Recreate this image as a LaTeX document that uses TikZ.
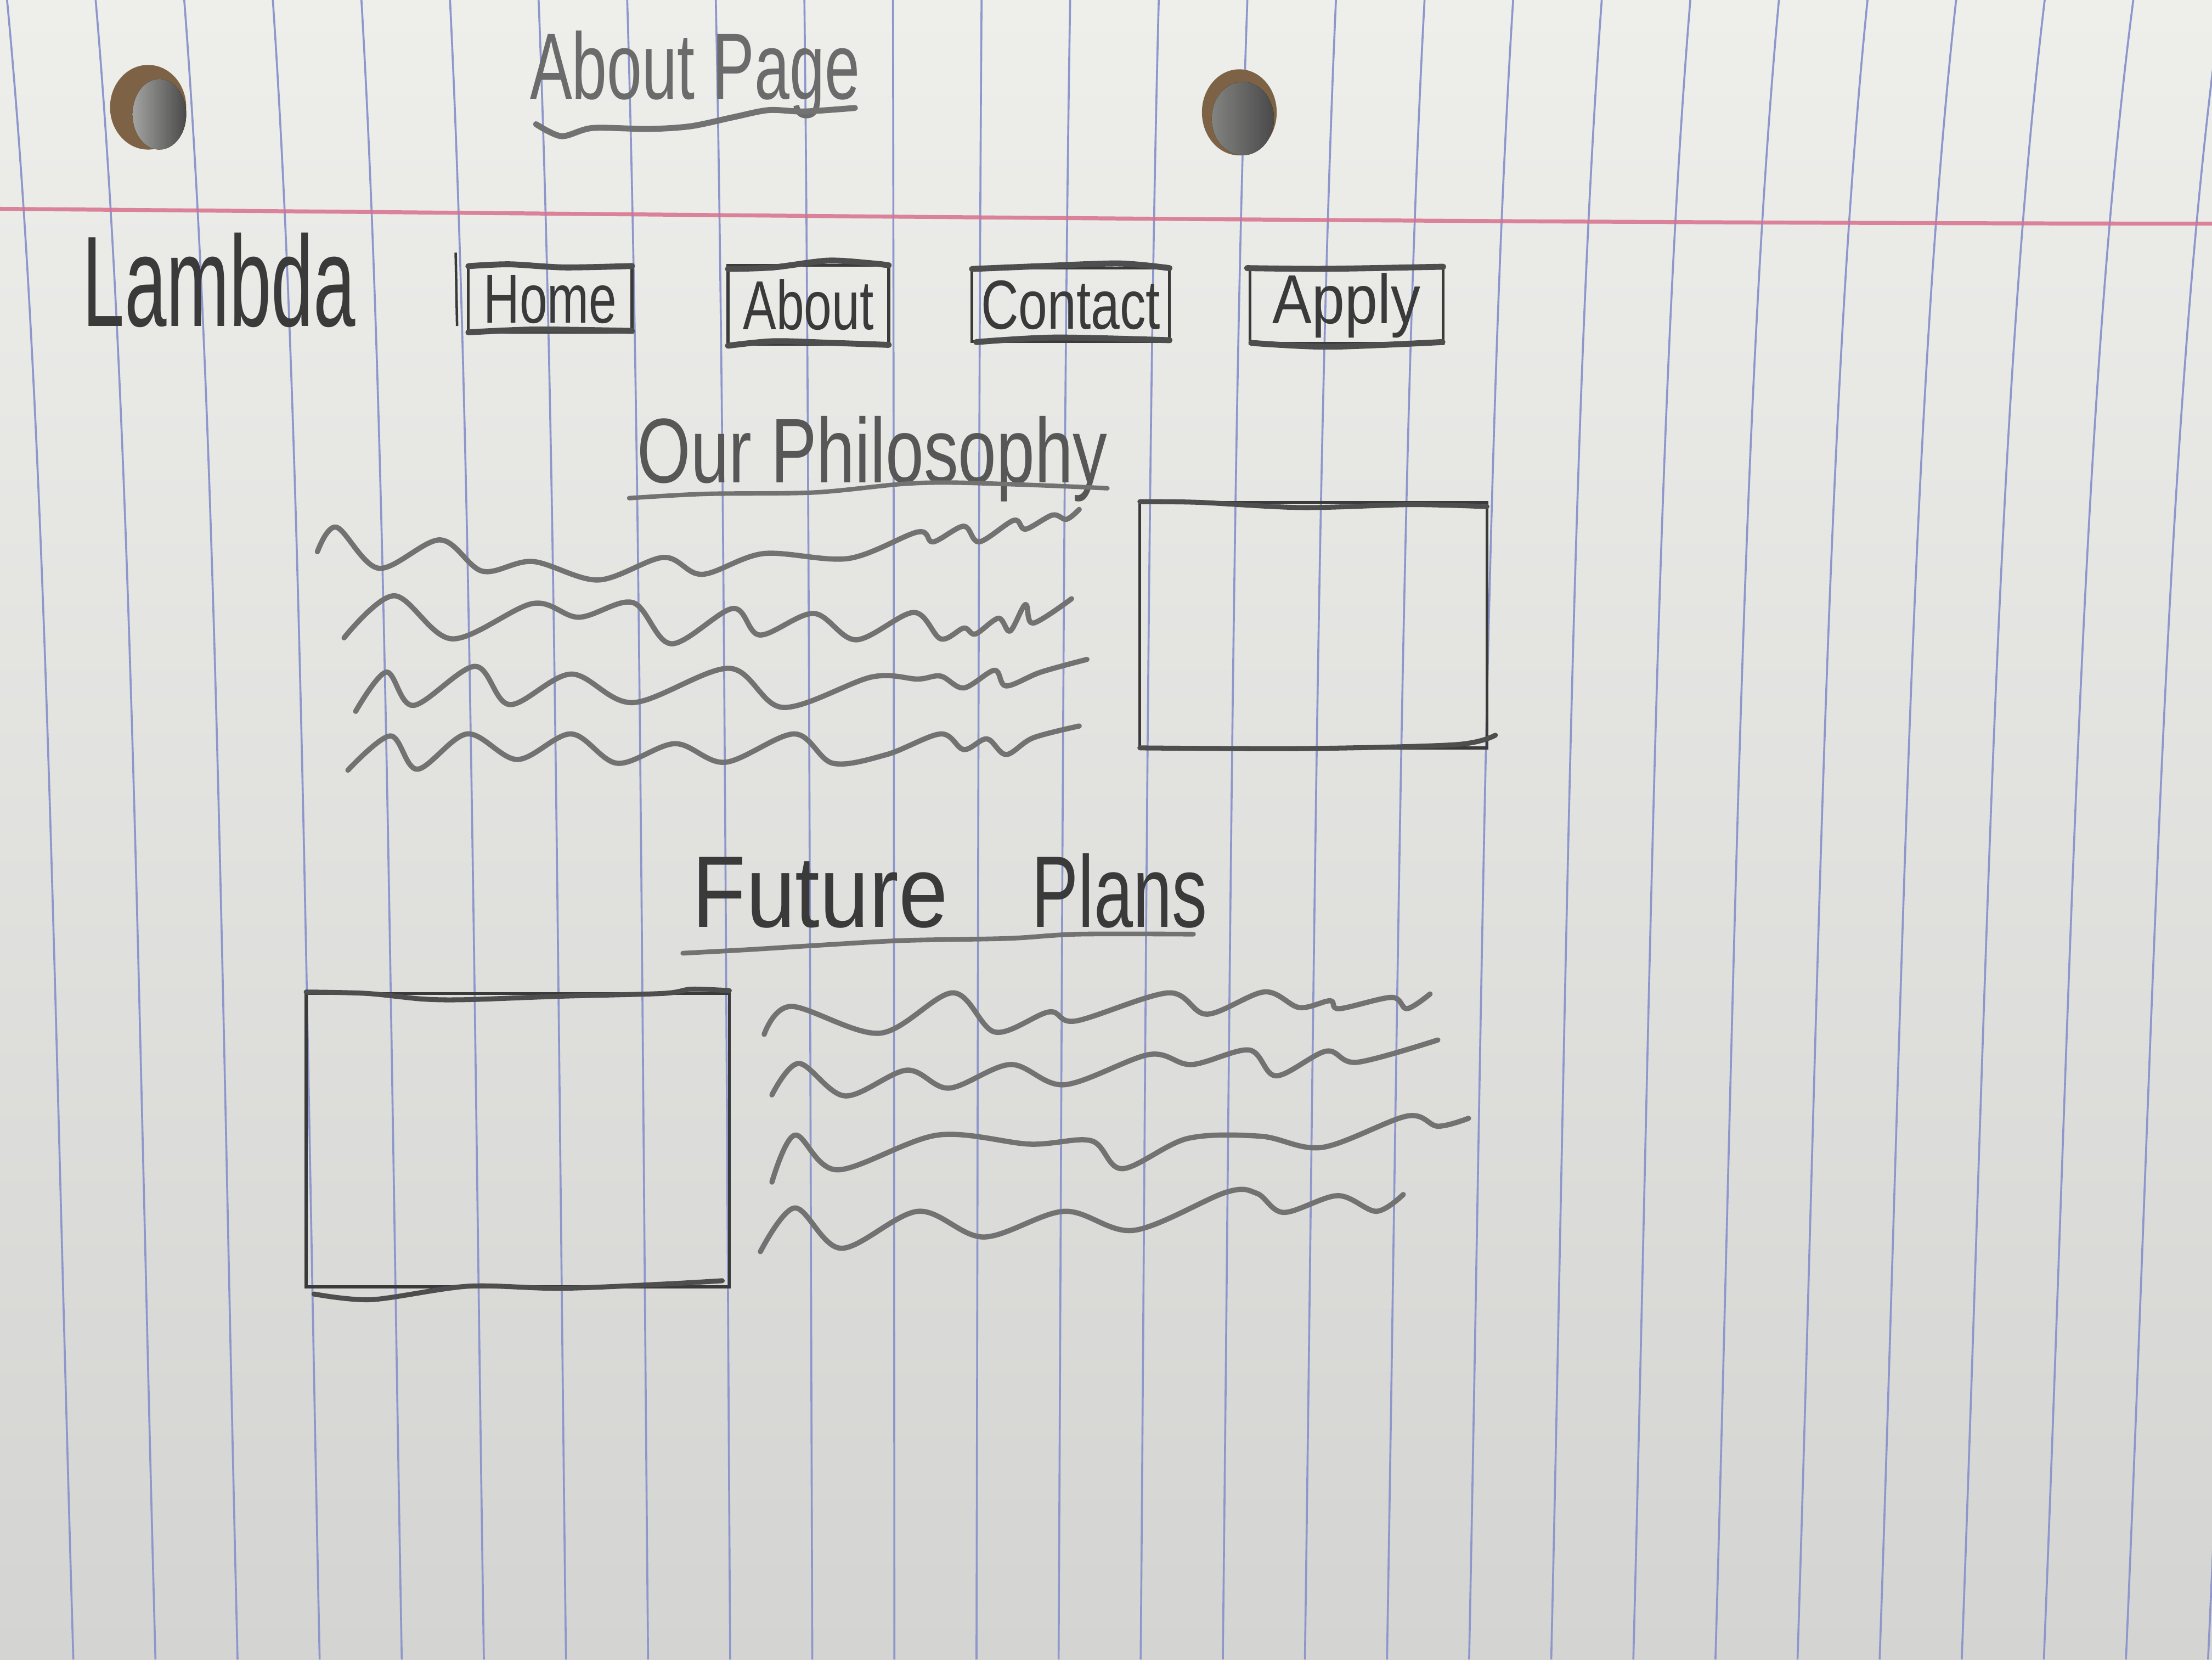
\documentclass[tikz,border=0pt]{standalone}
\usepackage{fontspec}
\setmainfont{Liberation Sans}
\usetikzlibrary{positioning}
\definecolor{PaperTop}{HTML}{EEEEEB}
\definecolor{PaperMid}{HTML}{E4E4E1}
\definecolor{PaperBot}{HTML}{D4D4D2}
\definecolor{RuleBlue}{HTML}{8E97CC}
\definecolor{Margin}{HTML}{D8708C}
\definecolor{Graphite}{HTML}{3A3A3A}
\definecolor{Lead}{HTML}{727272}
\definecolor{Cork}{HTML}{7D6245}
\definecolor{HoleLight}{HTML}{A3A3A1}
\definecolor{HoleDark}{HTML}{4A4A4A}
\newcommand{\narrow}[2][0.78]{\scalebox{#1}[1]{#2}}

\begin{document}
\begin{tikzpicture}[
    x=0.1mm, y=-0.1mm,
    rule/.style={RuleBlue, line width=0.4pt},
    margin/.style={Margin, line width=0.8pt, opacity=0.85},
    scribble/.style={Lead, line width=1.05pt, line cap=round, line join=round},
    stroke/.style={Graphite!90, line width=1.2pt, line cap=round, line join=round},
    frame/.style={draw=Graphite, line width=0.6pt, inner sep=0pt},
    hand/.style={text=Graphite, inner sep=0pt},
    navbox/.style={frame, text=Graphite, font=\fontsize{14}{16}\selectfont}
  ]
  \useasboundingbox (0,0) rectangle (1568,1176);
  \clip (0,0) rectangle (1568,1176);

  % paper
  \shade[top color=PaperTop, middle color=PaperMid, bottom color=PaperBot] (0,0) rectangle (1568,1176);
  \foreach \k in {0,...,26}{
    \pgfmathsetmacro\xt{5+62.8*\k}
    \pgfmathsetmacro\xb{52+58.2*\k}
    \draw[rule] (\xt,0) .. controls ({\xt+0.6*(\xb-\xt)},294) and ({\xt+0.7*(\xb-\xt)},706) .. (\xb,1176);
  }
  \draw[margin] (0,148) .. controls (500,152) and (1000,158) .. (1568,158.5);

  % punched holes
  \fill[Cork] (105,76) ellipse [x radius=2.7mm, y radius=3mm];
  \fill[left color=HoleLight, right color=HoleDark] (113,81) ellipse [x radius=1.9mm, y radius=2.5mm];
  \fill[Cork] (878.5,79.6) ellipse [x radius=2.65mm, y radius=3.05mm];
  \fill[left color=HoleLight!80!black, right color=HoleDark] (881,84) ellipse [x radius=2.2mm, y radius=2.6mm];

  % title
  \node[hand, anchor=base west, text=Graphite!75, font=\fontsize{19}{22}\selectfont] (title) at (375,70) {\narrow[0.67]{About Page}};
  \draw[stroke, Lead] plot[smooth] coordinates {(380,88) (398,96.5) (420,90.7) (460,91.4) (490,89.4) (520,83) (545,78) (570,79) (606,76.5)};

  % nav bar
  \node[hand, anchor=base west, font=\fontsize{26}{30}\selectfont] (brand) at (58,231) {\narrow[0.585]{Lambda}};
  \node[navbox, minimum width=11.6mm, minimum height=4.7mm] (home) at (390,212) {\narrow[0.72]{Home}};
  \node[navbox, minimum width=11.4mm, minimum height=5.6mm] (about) at (573,216) {\narrow[0.72]{About}};
  \node[navbox, minimum width=14mm, minimum height=5.2mm] (contact) at (759,216) {\narrow[0.75]{Contact}};
  \node[navbox, minimum width=13.7mm, minimum height=5.4mm] (apply) at (954.5,216.5) {\narrow[0.85]{Apply}};
  \draw[Graphite, line width=0.5pt] (323,179) -- (324,231);
  \draw[stroke] plot[smooth] coordinates {(332,188.6) (361,187.3) (400,189.5) (448,188.5)};
  \draw[stroke] plot[smooth] coordinates {(332,235.5) (380,233.5) (448,234.5)};
  \draw[stroke] plot[smooth] coordinates {(516,190.6) (548,189.5) (587,184.7) (619,186.7) (630,188)};
  \draw[stroke] plot[smooth] coordinates {(516,245) (548.5,241.8) (590,243) (630,244.4)};
  \draw[stroke] plot[smooth] coordinates {(689,190.6) (740,188.5) (793.5,186.7) (829,190)};
  \draw[stroke] plot[smooth] coordinates {(692,242.4) (748,239.2) (829,241.1)};
  \draw[stroke] plot[smooth] coordinates {(884,190) (940,190.5) (1023,189)};
  \draw[stroke] plot[smooth] coordinates {(887,243) (942,245.7) (1022.5,242.4)};

  % our philosophy
  \node[hand, anchor=base west, text=Graphite!85, font=\fontsize{18.5}{22}\selectfont] (philo) at (451,342) {\narrow[0.75]{Our Philosophy}};
  \draw[stroke, Lead, line width=0.9pt] plot[smooth] coordinates {(446,353) (500,350) (577,349) (639,343) (676,342) (740,344) (785,346)};
  \draw[scribble] plot[smooth, tension=0.55] coordinates {(225,391) (238.5,373.6) (268.5,402.7) (312,382.6) (342,404.8) (377.6,397.9) (424,411) (470.4,395) (497.7,407) (541.3,392.3) (601.3,395.8) (650.5,377) (661.4,384) (683.2,372.9) (694.1,384) (718.7,368.7) (726.9,375) (746,365) (756,368) (765,361)};
  \draw[scribble] plot[smooth, tension=0.55] coordinates {(243.9,452) (279.4,422.2) (320.3,452.7) (377.6,427.7) (410.3,437.4) (448.6,427) (475.8,456.2) (519.5,431.2) (538.6,450) (576.8,434.7) (606.8,453.4) (647.7,434) (666.8,452.7) (683.2,445.1) (691.4,449.3) (707.8,438.1) (716,447.2) (726.9,428.4) (732.3,441.6) (759.6,424.3)};
  \draw[scribble] plot[smooth, tension=0.55] coordinates {(252.1,504.1) (273.9,476.3) (293,499.9) (336.7,472.2) (361.2,499.3) (404.9,477.7) (448.6,497.9) (516.8,473.6) (555,501.3) (617.7,479.8) (650.5,481.2) (666.8,479.1) (683.2,487.5) (705,475) (713.2,486.1) (737.8,476.3) (770.5,467.3)};
  \draw[scribble] plot[smooth, tension=0.55] coordinates {(246.6,545.8) (276.7,521.5) (295.8,545.1) (331.2,520.1) (366.7,538.2) (404.9,520.1) (437.6,540.9) (478.6,527) (514,540.2) (563.1,520.1) (590.4,540.9) (628.6,534.7) (666.8,520.1) (683.2,531.2) (699.6,523.6) (713.2,534.7) (732.3,522.9) (765,514.5)};
  \node[frame, minimum width=24.6mm, minimum height=17.4mm] (philoimg) at (931,443) {};
  \draw[stroke, line width=1pt] plot[smooth] coordinates {(808,355.5) (850,356) (923,359.7) (1000,357.6) (1054,359)};
  \draw[stroke, line width=1pt] plot[smooth] coordinates {(808,530) (923,530.5) (1032,527.7) (1060,521)};

  % future plans
  \node[hand, anchor=base west, font=\fontsize{20.5}{24}\selectfont] (future) at (490,657) {\narrow[0.87]{Future}};
  \node[hand, base right=5.8mm of future, font=\fontsize{20.5}{24}\selectfont] (plans) {\narrow[0.69]{Plans}};
  \draw[stroke, Lead, line width=0.95pt] plot[smooth] coordinates {(484,675.5) (530,673) (578,670) (640,666.5) (715,665) (764,662) (846,662)};
  \node[frame, minimum width=30mm, minimum height=20.8mm] (futureimg) at (367,808) {};
  \draw[stroke, line width=1pt] plot[smooth] coordinates {(217,703) (260,704) (300,708) (331.6,708.4) (397,706) (470,704) (490,701) (517,702)};
  \draw[stroke, line width=1pt] plot[smooth] coordinates {(222.5,917) (263.4,921) (331.6,911.5) (397,913) (470,910) (512,907.6)};
  \draw[scribble] plot[smooth, tension=0.55] coordinates {(541.7,733) (560.8,713.2) (623.6,732.2) (675.4,703.6) (705.4,731.4) (743.6,717.1) (762.7,723.5) (828.2,703.6) (855.5,718.7) (896.4,702.9) (921,714) (942.8,709.2) (949.4,714.8) (986.5,706.8) (997.4,714.8) (1013.7,704.4)};
  \draw[scribble] plot[smooth, tension=0.55] coordinates {(547.2,775.9) (566.3,753.6) (599,776.6) (642.7,758.4) (672.7,771.1) (716.3,754.4) (754.5,768.7) (814.6,747.3) (844.6,754.4) (885.5,744.1) (904.6,762.4) (940.1,744.9) (961.9,752.8) (1019.2,737)};
  \draw[scribble] plot[smooth, tension=0.55] coordinates {(547.2,837.7) (563.5,804.4) (593.6,829) (664.5,804.4) (730,810.8) (773.6,808.4) (795.5,828.2) (841.8,806.8) (893.7,805.2) (937.3,813.1) (997.4,790.9) (1019.2,798.1) (1041,792.5)};
  \draw[scribble] plot[smooth, tension=0.55] coordinates {(539,887) (563.5,856) (596.3,884.6) (650.8,858.4) (697.2,876.6) (754.5,858.4) (803.6,871.9) (869.1,844.9) (891,845.7) (910,859.2) (948.3,847.3) (975.6,858.4) (994.7,846.5)};
\end{tikzpicture}
\end{document}
